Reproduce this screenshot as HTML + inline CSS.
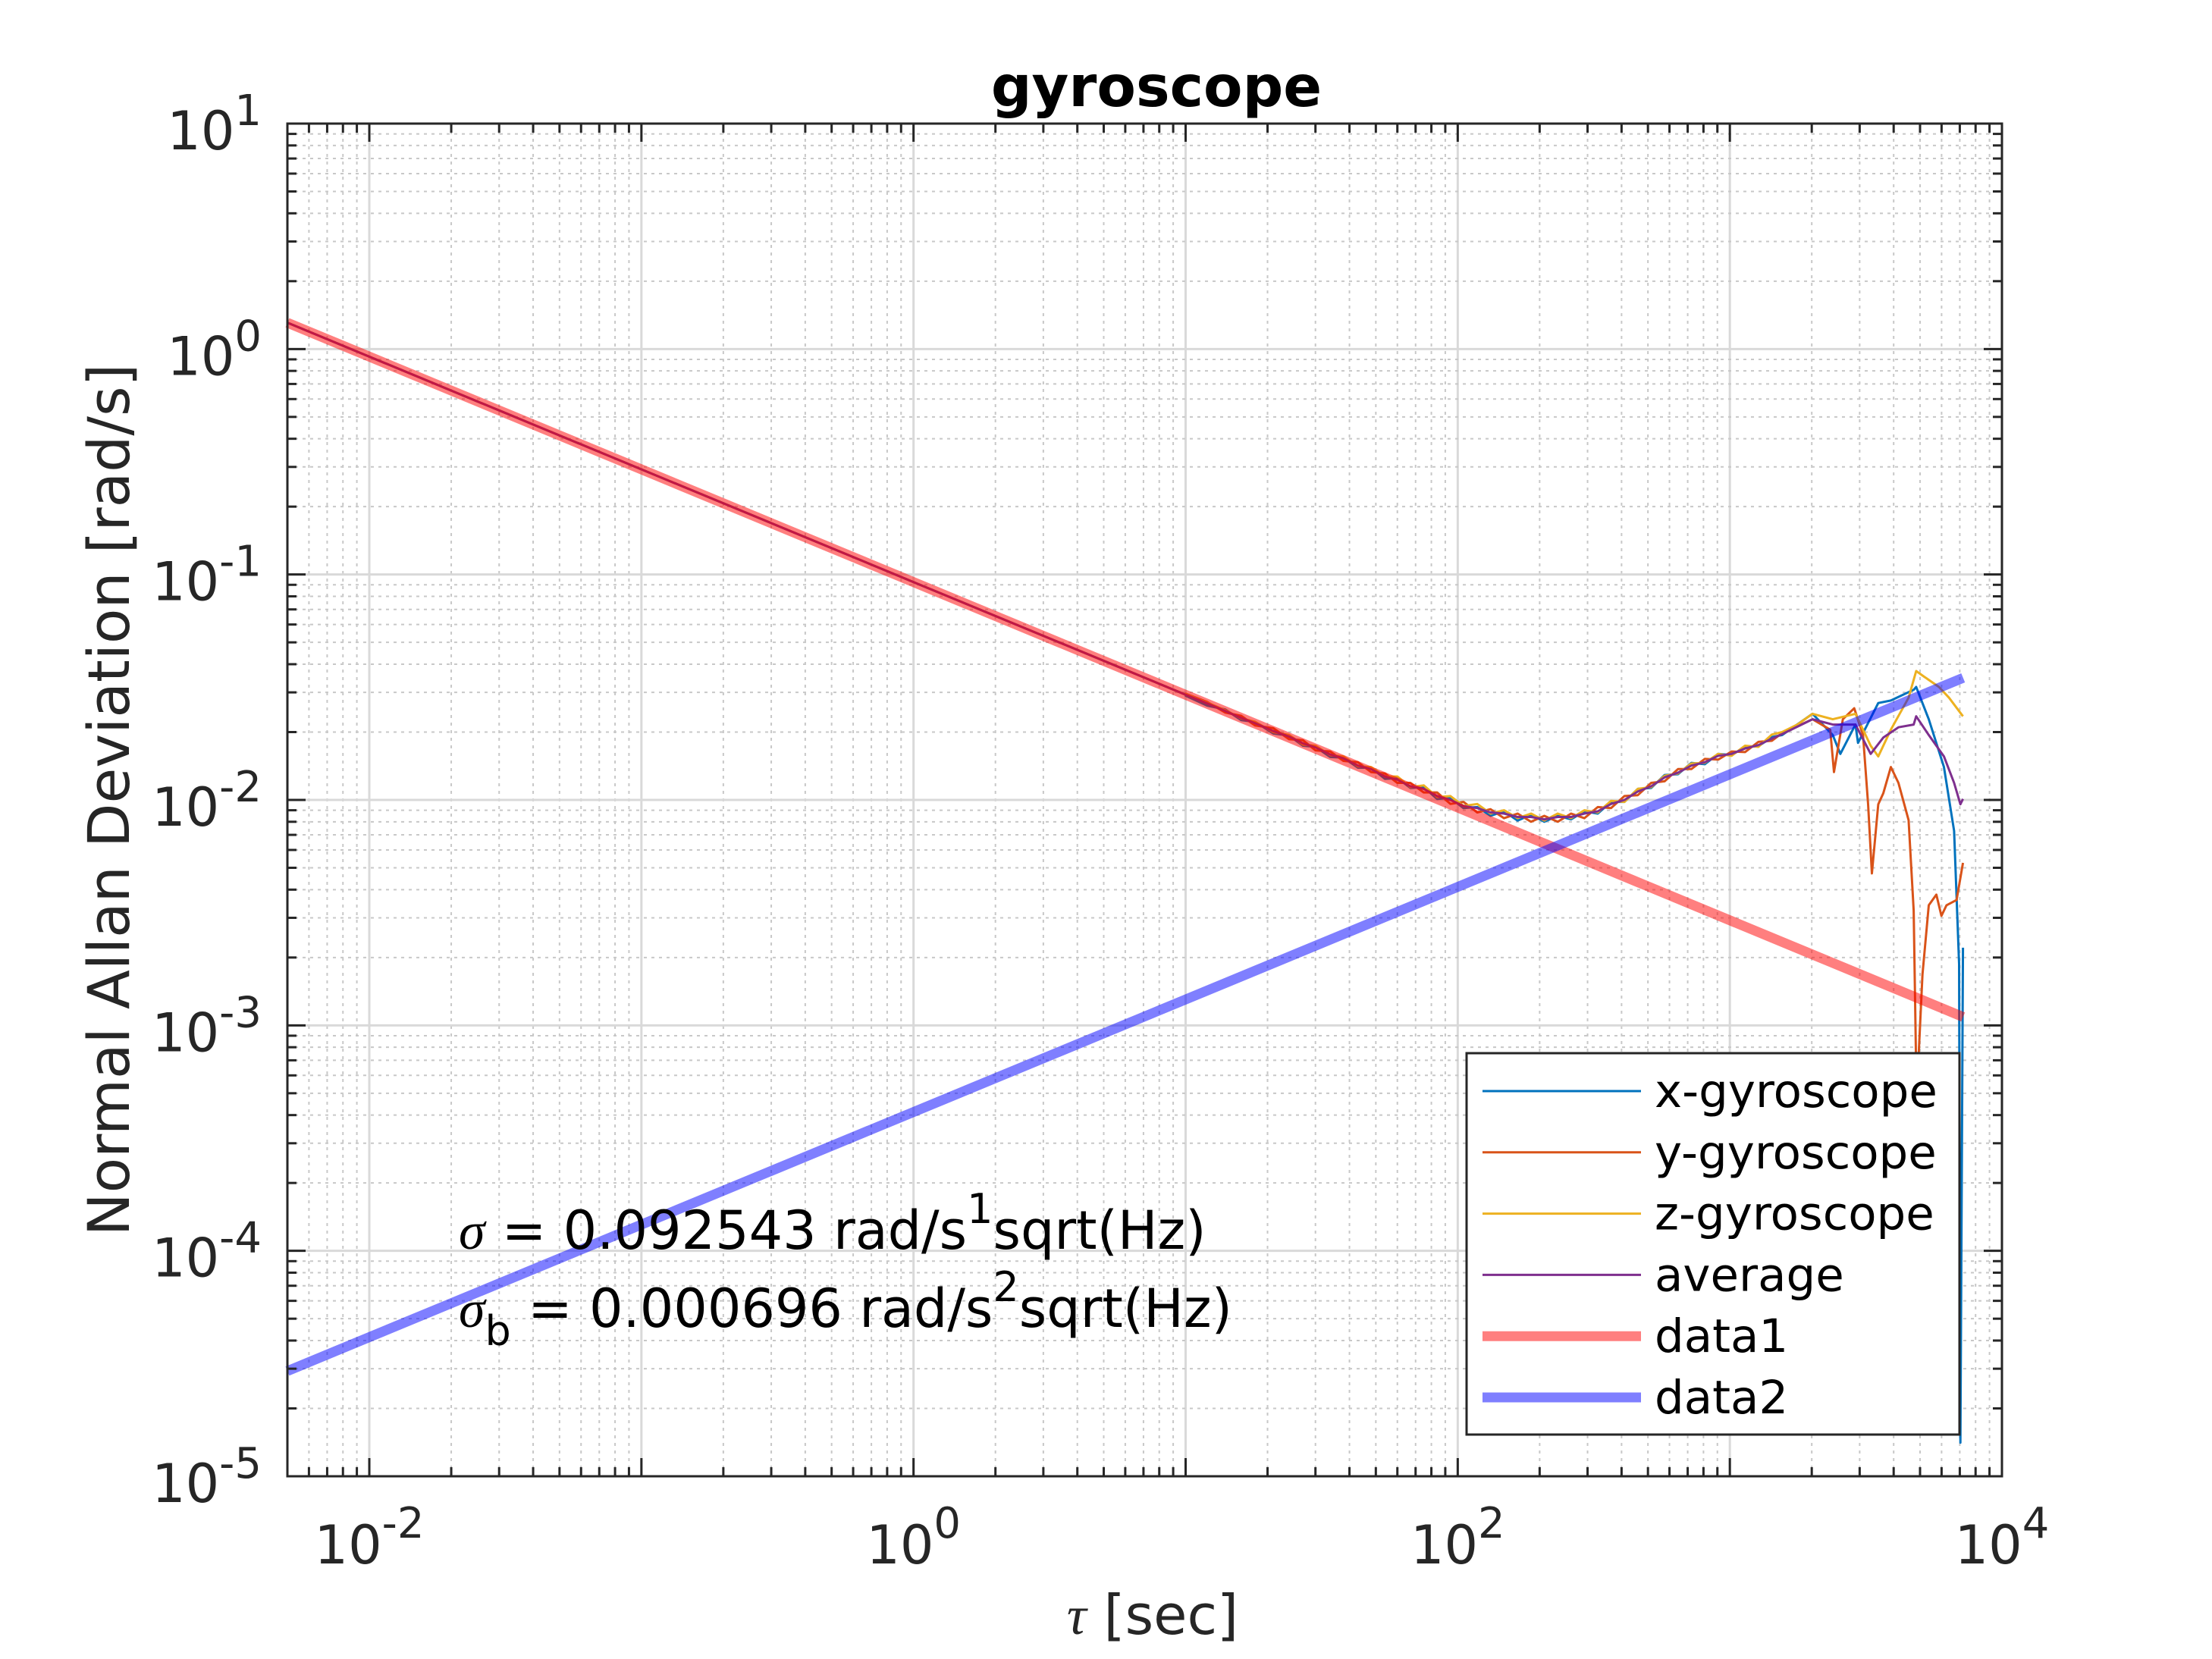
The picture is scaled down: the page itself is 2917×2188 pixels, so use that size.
<!DOCTYPE html>
<html><head><meta charset="utf-8">
<style>
html,body{margin:0;padding:0;background:#fff;}
svg{display:block;}
text{font-family:"DejaVu Sans","Liberation Sans",sans-serif;}
</style></head>
<body>
<svg id="chart" xmlns="http://www.w3.org/2000/svg" width="2917" height="2188" viewBox="0 0 2917 2188">
<rect width="2917" height="2188" fill="#fff"/>
<g id="grid"></g>
<g id="series"></g>
<g id="axes"></g>
<text x="1525" y="140" text-anchor="middle" font-size="75" font-weight="bold" fill="#000">gyroscope</text>
<text x="1520" y="2155" text-anchor="middle" font-size="72" fill="#262626"><tspan font-family="Liberation Serif" font-style="italic">τ</tspan> [sec]</text>
<text transform="translate(170,1055) rotate(-90)" text-anchor="middle" font-size="76" fill="#262626">Normal Allan Deviation [rad/s]</text>
<g font-size="70" fill="#000">
<text x="605" y="1647"><tspan font-family="Liberation Serif" font-style="italic">σ</tspan> = 0.092543 rad/s<tspan dy="-34" font-size="54">1</tspan><tspan dy="34">sqrt(Hz)</tspan></text>
<text x="605" y="1750"><tspan font-family="Liberation Serif" font-style="italic">σ</tspan><tspan dy="24" font-size="54">b</tspan><tspan dy="-24"> = 0.000696 rad/s</tspan><tspan dy="-34" font-size="54">2</tspan><tspan dy="34">sqrt(Hz)</tspan></text>
</g>
<g id="legend"></g>
</svg>
<script>
const tauNoise = [10,12,14,16,18,21,24,27,30,34,38,43,48,54,60,67,75,84,94,105,118,132,148,166,186,208,233,261,292,327,366,410,459,514,576,645,722,809,906,1015,1137,1273,1426,1557];
const xHead = [.0290,.0262,.0252,.0226,.0222,.0197,.0193,.0174,.0172,.0155,.0154,.0139,.0139,.0124,.0125,.0113,.0114,.0101,.0102,.0092,.0093,.0085,.0089,.0081,.0086,.0080,.0085,.0082,.0089,.0087,.0098,.0098,.0112,.0113,.0129,.0130,.0146,.0144,.0160,.0158,.0172,.0173,.0190,.0194];
const yHead = [.0296,.0272,.0244,.0236,.0214,.0208,.0186,.0184,.0166,.0164,.0149,.0147,.0133,.0131,.0119,.0119,.0108,.0108,.0096,.0098,.0088,.0091,.0083,.0087,.0080,.0085,.0080,.0087,.0083,.0093,.0092,.0104,.0105,.0119,.0121,.0137,.0137,.0152,.0151,.0164,.0163,.0181,.0183,.0198];
const zHead = [.0295,.0270,.0250,.0230,.0222,.0200,.0194,.0176,.0174,.0158,.0156,.0141,.0140,.0127,.0127,.0114,.0116,.0103,.0104,.0094,.0096,.0087,.0090,.0083,.0087,.0081,.0087,.0083,.0090,.0088,.0099,.0098,.0112,.0114,.0128,.0131,.0145,.0146,.0160,.0157,.0174,.0172,.0195,.0200];
const avgHead = [.0293,.0268,.0248,.0231,.0219,.0202,.0191,.0178,.0171,.0159,.0153,.0142,.0137,.0127,.0123,.0115,.0112,.0104,.0100,.0094,.0092,.0088,.0087,.0084,.0084,.0082,.0084,.0084,.0087,.0089,.0096,.0100,.0109,.0115,.0126,.0132,.0142,.0147,.0157,.0160,.0169,.0175,.0187,.0196];
const tauStart = [0.005, 1, 10];
const valStart = [1.309, 0.0925, 0.0293];
const xTailTau = [2013,2389,2547,2895,2958,3511,3907,4737,4840,5385,6122,6670,6961,7037,7189];
const xTailVal = [.0241,.0194,.0160,.0216,.0179,.0269,.0276,.0308,.0317,.0228,.0140,.00729,.00187,1.41e-5,.00221];
const yTailTau = [2013,2338,2414,2602,2865,3087,3223,3328,3511,3664,3907,4166,4538,4737,4840,4943,5105,5385,5742,5993,6255,6815,7189];
const yTailVal = [.0228,.0205,.0133,.0228,.0255,.0194,.00957,.00472,.00957,.0107,.0140,.0119,.00813,.00323,.000632,.000744,.00168,.00341,.00380,.00306,.00341,.00360,.00526];
const zTailTau = [1771,2013,2389,2895,3293,3511,3907,4538,4840,5159,5866,6390,7189];
const zTailVal = [.0216,.0241,.0228,.0241,.0174,.0156,.0205,.0284,.0373,.0353,.0317,.0284,.0235];
const avgTailTau = [2013,2389,2895,3293,3664,4166,4737,4840,5385,6122,6670,7037,7189];
const avgTailVal = [.0228,.0216,.0216,.0160,.0189,.0210,.0216,.0235,.0194,.0156,.0119,.00957,.0101];
const tauFit = [0.005, 7200];
const data1Vals = [1.309, 0.00109];
const data2Vals = [2.93e-5, 0.0348];
const xTickExps = [-2, 0, 2, 4];
const yTickExps = [1, 0, -1, -2, -3, -4, -5];
const legendLabels = ["x-gyroscope","y-gyroscope","z-gyroscope","average","data1","data2"];

const L=379,R=2640,T=163,B=1947;
const xmin=Math.log10(0.005), xmax=4, ymin=-5, ymax=1;
function X(v){return L+(Math.log10(v)-xmin)/(xmax-xmin)*(R-L);}
function Y(v){return T+(ymax-Math.log10(v))/(ymax-ymin)*(B-T);}
const NS="http://www.w3.org/2000/svg";
function mk(tag,attrs,parent){const e=document.createElementNS(NS,tag);for(const k in attrs)e.setAttribute(k,attrs[k]);parent.appendChild(e);return e;}

const grid=document.getElementById('grid');
for(let e=-3;e<=3;e++){for(let m=1;m<=9;m++){const v=m*Math.pow(10,e);const x=X(v);if(x<L+1||x>R-1)continue;
  const ln=mk('line',{x1:x,y1:T,x2:x,y2:B,stroke:m===1?'#d9d9d9':'#c8c8c8','stroke-width':m===1?3:2,'stroke-dasharray':m===1?'none':'4 6'},grid);
  
  }}
for(let e=-5;e<=0;e++){for(let m=1;m<=9;m++){const v=m*Math.pow(10,e);const y=Y(v);if(y<T+1||y>B-1)continue;
  const ln=mk('line',{x1:L,y1:y,x2:R,y2:y,stroke:m===1?'#d9d9d9':'#c8c8c8','stroke-width':m===1?3:2,'stroke-dasharray':m===1?'none':'4 6'},grid);
  
  }}

const sg=document.getElementById('series');
function poly(taus,vals,color,w,name){
  const pts=taus.map((t,i)=>X(t).toFixed(1)+','+Y(vals[i]).toFixed(1)).join(' ');
  const p=mk('polyline',{points:pts,fill:'none',stroke:color,'stroke-width':w,'stroke-linejoin':'round'},sg);
  
  
  return p;}
const sx=tauStart.concat(tauNoise), defs=[
 [xHead,xTailTau,xTailVal,'#0072BD','x-gyroscope-line'],
 [yHead,yTailTau,yTailVal,'#D95319','y-gyroscope-line'],
 [zHead,zTailTau,zTailVal,'#EDB120','z-gyroscope-line'],
 [avgHead,avgTailTau,avgTailVal,'#7E2F8E','average-line']];
defs.forEach(d=>{poly(sx.concat(d[1]),valStart.concat(d[0]).concat(d[2]),d[3],3,d[4]);});
poly(tauFit,data1Vals,'rgba(255,0,0,0.5)',13,'data1-fit-line');
poly(tauFit,data2Vals,'rgba(0,0,255,0.5)',13,'data2-fit-line');

const ax=document.getElementById('axes');
const box=mk('rect',{x:L,y:T,width:R-L,height:B-T,fill:'none',stroke:'#262626','stroke-width':3},ax);


for(let e=-3;e<=4;e++){for(let m=1;m<=9;m++){const v=m*Math.pow(10,e);const x=X(v);if(x<L||x>R+0.5)continue;const len=m===1?24:12;
  const t1=mk('line',{x1:x,y1:B,x2:x,y2:B-len,stroke:'#262626','stroke-width':3},ax);
  
  
  const t2=mk('line',{x1:x,y1:T,x2:x,y2:T+len,stroke:'#262626','stroke-width':3},ax);
  
  }}
for(let e=-5;e<=1;e++){for(let m=1;m<=9;m++){const v=m*Math.pow(10,e);const y=Y(v);if(y<T-0.5||y>B+0.5)continue;const len=m===1?24:12;
  const t1=mk('line',{x1:L,y1:y,x2:L+len,y2:y,stroke:'#262626','stroke-width':3},ax);
  
  
  const t2=mk('line',{x1:R,y1:y,x2:R-len,y2:y,stroke:'#262626','stroke-width':3},ax);
  
  }}
xTickExps.forEach(e=>{const x=X(Math.pow(10,e));
  const t=mk('text',{x:x,y:2062,'text-anchor':'middle','font-size':70,fill:'#262626'},ax);
  
  
  t.innerHTML='10<tspan dy="-34" font-size="56">'+e+'</tspan>';});
yTickExps.forEach(e=>{const y=Y(Math.pow(10,e));
  const t=mk('text',{x:345,y:y+34,'text-anchor':'end','font-size':70,fill:'#262626'},ax);
  
  
  t.innerHTML='10<tspan dy="-32" font-size="56">'+e+'</tspan>';});

const lg=document.getElementById('legend');
const lb=mk('rect',{x:1934,y:1389,width:650,height:503,fill:'#fff',stroke:'#262626','stroke-width':3},lg);


const lc=['#0072BD','#D95319','#EDB120','#7E2F8E','rgba(255,0,0,0.5)','rgba(0,0,255,0.5)'];
legendLabels.forEach((s,i)=>{const y=1439+i*80.8;
  const l=mk('line',{x1:1955,y1:y,x2:2164,y2:y,stroke:lc[i],'stroke-width':i>=4?13:3},lg);
  
  
  const t=mk('text',{x:2182,y:y+21,'font-size':61,fill:'#000'},lg);
  
  
  t.textContent=s;});
</script>
</body></html>
